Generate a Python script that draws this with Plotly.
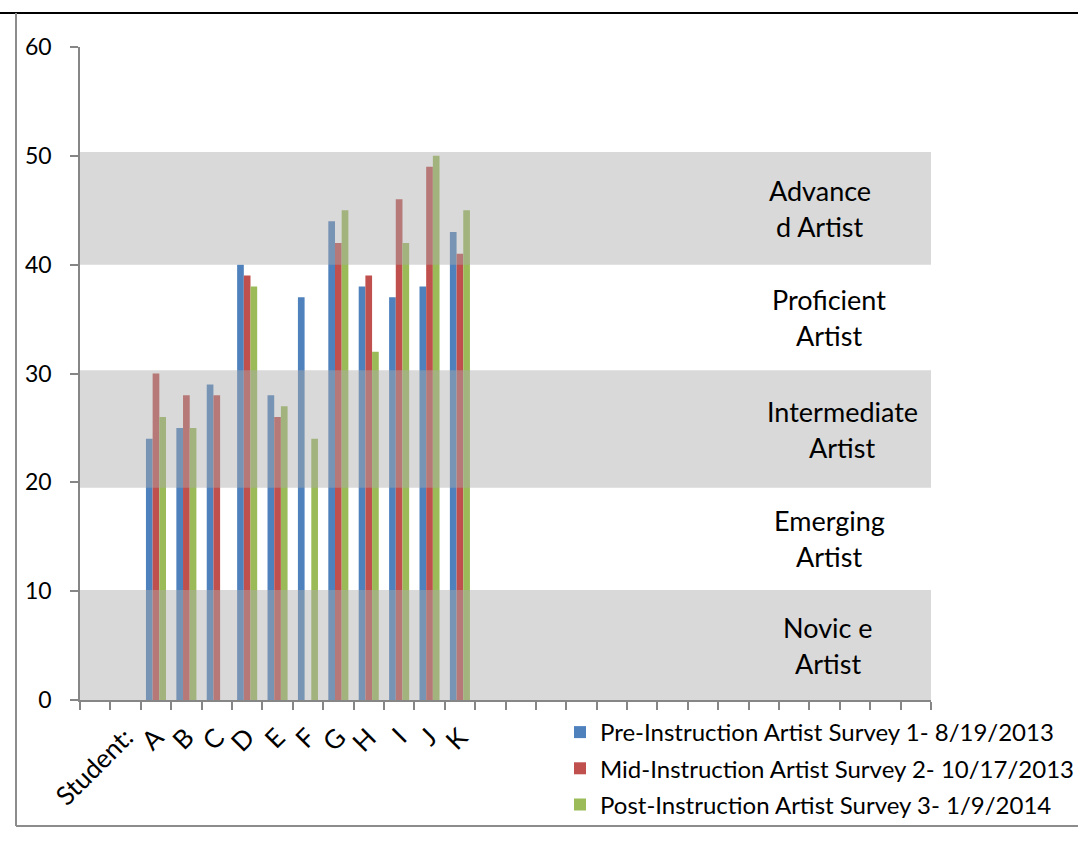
import plotly.graph_objects as go

# ---- data ----
students = ["A", "B", "C", "D", "E", "F", "G", "H", "I", "J", "K"]
survey_names = [
    "Pre-Instruction Artist Survey 1- 8/19/2013",
    "Mid-Instruction Artist Survey 2- 10/17/2013",
    "Post-Instruction Artist Survey 3- 1/9/2014",
]
pre_scores = [24, 25, 29, 40, 28, 37, 44, 38, 37, 38, 43]
mid_scores = [30, 28, 28, 39, 26, None, 42, 39, 46, 49, 41]
post_scores = [26, 25, None, 38, 27, 24, 45, 32, 42, 50, 45]
series_colors = ["#4F81BD", "#C0504D", "#9BBB59"]

axis_label_prefix = ["", "Student:"]
n_trailing_blank = 15

band_bottoms = [0, 10.1, 19.5, 30.3, 40]
band_tops = [10.1, 19.5, 30.3, 40, 50.35]
band_shaded = [True, False, True, False, True]
band_labels = [
    ["Novic e", "Artist"],
    ["Emerging", "Artist"],
    ["Intermediate", "Artist"],
    ["Proficient", "Artist"],
    ["Advance", "d Artist"],
]

y_ticks = [0, 10, 20, 30, 40, 50, 60]

# ---- layout helpers ----
FONT = "Lato"
L, R, T, B = 80, 147, 47, 157
W, H = 1078, 857
plot_w = W - L - R
plot_h = H - T - B

all_labels = axis_label_prefix + students + [""] * n_trailing_blank
n_cat = len(all_labels)
x_start = len(axis_label_prefix)
x_pos = [x_start + i for i in range(len(students))]

def px_to_xdata(px):
    return (px - L) / plot_w * n_cat - 0.5

def px_to_xpaper(px):
    return (px - L) / plot_w

def py_to_ypaper(py):
    return (H - B - py) / plot_h

fig = go.Figure()
for name, vals, col in zip(survey_names, [pre_scores, mid_scores, post_scores], series_colors):
    fig.add_trace(go.Bar(
        x=x_pos, y=vals, name=name, marker_color=col,
        marker_line_width=0, legendgroup=name,
    ))

shapes = []
annotations = []
label_px = [828, 829, 842, 829, 820]
for b0, b1, shaded, lab, lx in zip(band_bottoms, band_tops, band_shaded, band_labels, label_px):
    if shaded:
        shapes.append(dict(
            type="rect", xref="paper", yref="y", x0=0, x1=1, y0=b0, y1=b1,
            fillcolor="rgba(170,170,170,0.45)", line_width=0, layer="above",
        ))
    yc = (b0 + b1) / 2
    for k, line in enumerate(lab):
        annotations.append(dict(
            x=px_to_xdata(lx), y=yc, xref="x", yref="y", text=line,
            showarrow=False, yshift=18 - 36 * k,
            font=dict(family=FONT, size=27, color="black"),
            xanchor="center", yanchor="middle",
        ))

# outer chart border
top_y = py_to_ypaper(13)
bot_y = py_to_ypaper(826)
left_x = px_to_xpaper(16)
shapes.append(dict(type="line", xref="paper", yref="paper", x0=px_to_xpaper(0), x1=px_to_xpaper(1078),
                   y0=top_y, y1=top_y, line=dict(color="black", width=2)))
shapes.append(dict(type="line", xref="paper", yref="paper", x0=left_x, x1=left_x,
                   y0=top_y, y1=bot_y, line=dict(color="#8C8C8C", width=2)))
shapes.append(dict(type="line", xref="paper", yref="paper", x0=left_x, x1=px_to_xpaper(1078),
                   y0=bot_y, y1=bot_y, line=dict(color="#8C8C8C", width=2)))

fig.update_layout(
    width=W, height=H,
    margin=dict(l=L, r=R, t=T, b=B, pad=0, autoexpand=False),
    paper_bgcolor="white", plot_bgcolor="white",
    barmode="group", bargap=0.34, bargroupgap=0,
    font=dict(family=FONT, size=20, color="black"),
    shapes=shapes, annotations=annotations,
    showlegend=True,
    legend=dict(
        x=px_to_xpaper(560), y=py_to_ypaper(710), xanchor="left", yanchor="top",
        font=dict(family=FONT, size=24, color="black"),
        bgcolor="rgba(0,0,0,0)", tracegroupgap=2,
    ),
    xaxis=dict(
        range=[-0.5, n_cat - 0.5],
        tickmode="array", tickvals=list(range(n_cat)), ticktext=all_labels,
        tickangle=-45, ticks="", ticklabelstandoff=10,
        tickfont=dict(family=FONT, size=26, color="black"),
        showline=True, linecolor="#868686", linewidth=2,
        showgrid=False, zeroline=False,
        minor=dict(tick0=-0.5, dtick=1, ticks="outside", ticklen=8,
                   tickcolor="#868686", tickwidth=1.5, showgrid=False),
    ),
    yaxis=dict(
        range=[0, 60], tickmode="array", tickvals=y_ticks,
        ticks="outside", ticklen=8, tickcolor="#868686", tickwidth=1.5,
        ticklabelstandoff=14,
        tickfont=dict(family=FONT, size=23, color="black"),
        showline=True, linecolor="#868686", linewidth=1.5,
        showgrid=False, zeroline=False,
    ),
)

fig.write_html("out.html")
